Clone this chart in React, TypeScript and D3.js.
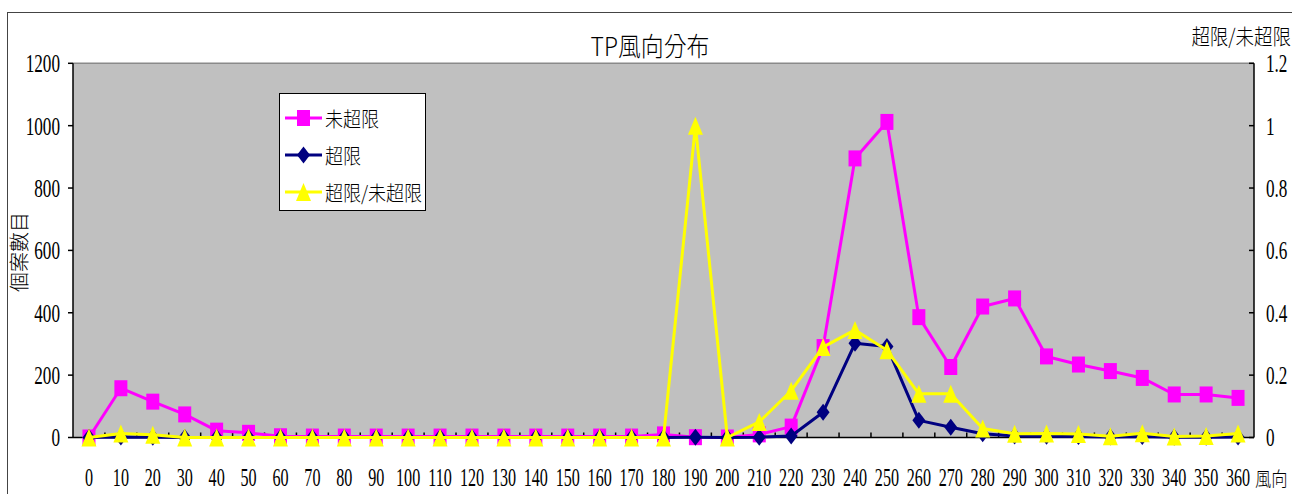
import React from 'react';
import * as d3 from 'd3';

// wind direction categories (degrees)
const directions = [
  0, 10, 20, 30, 40, 50, 60, 70, 80, 90, 100, 110, 120, 130, 140, 150, 160, 170, 180,
  190, 200, 210, 220, 230, 240, 250, 260, 270, 280, 290, 300, 310, 320, 330, 340, 350, 360,
];

// 未超限 counts (left axis)
const notExceeded = [
  0, 158, 115, 74, 22, 15, 4, 3, 3, 3, 3, 3, 3, 3, 3, 3, 3, 3, 10,
  1, 0, 10, 35, 290, 895, 1012, 386, 226, 420, 446, 260, 234, 213, 191, 138, 138, 127,
];

// 超限 counts (left axis)
const exceeded = [
  0, 2, 1, 0, 0, 0, 0, 0, 0, 0, 0, 0, 0, 0, 0, 0, 0, 0, 0,
  1, 0, 1, 5, 81, 302, 292, 55, 33, 12, 5, 4, 3, 2, 3, 1, 1, 2,
];

// 超限/未超限 ratio (right axis)
const ratio = [
  0, 0.013, 0.009, 0, 0, 0, 0, 0, 0, 0, 0, 0, 0, 0, 0, 0, 0, 0, 0,
  1.0, 0, 0.05, 0.15, 0.29, 0.345, 0.28, 0.14, 0.14, 0.029, 0.012, 0.013, 0.011, 0.004, 0.014, 0.003, 0.005, 0.013,
];

const leftTicks = [0, 200, 400, 600, 800, 1000, 1200];
const rightTicks = [0, 0.2, 0.4, 0.6, 0.8, 1, 1.2];

const W = 1292;
const H = 494;
const plot = { left: 73, right: 1254, top: 63.3, bottom: 437.5 };

const CJK = '"Noto Sans CJK TC", "Noto Sans CJK SC", sans-serif';
const NUM = '"Liberation Serif", "DejaVu Serif", serif';

const MAGENTA = '#FF00FF';
const NAVY = '#000080';
const YELLOW = '#FFFF00';

const square = 'M-6.5,-8L6.5,-8L6.5,8L-6.5,8Z';
const diamond = 'M0,-8.5L6.5,0L0,8.5L-6.5,0Z';
const triangle = 'M0,-9L7.5,9L-7.5,9Z';

const Txt: React.FC<{
  x: number; y: number; sx?: number; size: number; family: string;
  anchor?: string; rotate?: number; weight?: number; children: React.ReactNode;
}> = ({ x, y, sx = 1, size, family, anchor = 'start', rotate = 0, weight = 400, children }) => (
  <text
    transform={`translate(${x},${y}) rotate(${rotate}) scale(${sx},1)`}
    fontSize={size}
    fontFamily={family}
    fontWeight={weight}
    textAnchor={anchor}
    dominantBaseline="central"
    fill="#000"
  >
    {children}
  </text>
);

const App: React.FC = () => {
  const x = d3.scaleBand<number>()
    .domain(directions)
    .range([plot.left, plot.right]);
  const cx = (d: number) => (x(d) || 0) + x.bandwidth() / 2;

  const yL = d3.scaleLinear().domain([0, 1200]).range([plot.bottom, plot.top]);
  const yR = d3.scaleLinear().domain([0, 1.2]).range([plot.bottom, plot.top]);

  const lineL = d3.line<number>()
    .x((_, i) => cx(directions[i]))
    .y(v => yL(v));
  const lineR = d3.line<number>()
    .x((_, i) => cx(directions[i]))
    .y(v => yR(v));

  const series = [
    { name: '未超限', values: notExceeded, color: MAGENTA, marker: square, path: lineL(notExceeded), y: yL },
    { name: '超限', values: exceeded, color: NAVY, marker: diamond, path: lineL(exceeded), y: yL },
    { name: '超限/未超限', values: ratio, color: YELLOW, marker: triangle, path: lineR(ratio), y: yR },
  ];

  const legend = { x: 279.5, y: 93.5, w: 146, h: 117 };
  const legendRows = [118, 155, 192];

  return (
    <svg width={W} height={H} style={{ position: 'absolute', left: 0, top: 0, background: '#fff' }}>
      {/* outer chart frame */}
      <rect x={7.5} y={12.5} width={W} height={H} fill="#fff" stroke="#444" strokeWidth={1} />

      {/* title */}
      <Txt x={650} y={45} size={26} sx={0.88} family={CJK} weight={300} anchor="middle">TP風向分布</Txt>

      {/* plot area */}
      <rect x={plot.left} y={plot.top} width={plot.right - plot.left} height={plot.bottom - plot.top}
        fill="#C0C0C0" />
      <line x1={plot.left} x2={plot.right} y1={plot.top} y2={plot.top} stroke="#8a8a8a" strokeWidth={1.5} />

      {/* left axis */}
      <line x1={plot.left} x2={plot.left} y1={plot.top} y2={plot.bottom} stroke="#000" strokeWidth={1.5} />
      {leftTicks.map(t => (
        <g key={'l' + t}>
          <line x1={plot.left - 5} x2={plot.left} y1={yL(t)} y2={yL(t)} stroke="#000" strokeWidth={1.5} />
          <Txt x={60} y={yL(t)} size={26} sx={0.66} family={NUM} anchor="end">{t}</Txt>
        </g>
      ))}
      <Txt x={18} y={252} size={20} family={CJK} weight={300} anchor="middle" rotate={-90}>個案數目</Txt>

      {/* right axis */}
      <line x1={plot.right} x2={plot.right} y1={plot.top} y2={plot.bottom} stroke="#000" strokeWidth={1.5} />
      {rightTicks.map(t => (
        <g key={'r' + t}>
          <line x1={plot.right - 5} x2={plot.right} y1={yR(t)} y2={yR(t)} stroke="#000" strokeWidth={1.5} />
          <Txt x={1266} y={yR(t)} size={26} sx={0.66} family={NUM}>{String(t)}</Txt>
        </g>
      ))}
      <Txt x={1291} y={35} size={21} sx={0.88} family={CJK} weight={300} anchor="end">超限/未超限</Txt>

      {/* bottom axis */}
      <line x1={plot.left} x2={plot.right} y1={plot.bottom} y2={plot.bottom} stroke="#000" strokeWidth={1.5} />
      {directions.slice(1).map(d => (
        <line key={'t' + d} x1={x(d) || 0} x2={x(d) || 0} y1={plot.bottom - 5} y2={plot.bottom}
          stroke="#000" strokeWidth={1.5} />
      ))}
      {directions.map(d => (
        <Txt key={'x' + d} x={cx(d)} y={478} size={26} sx={0.62} family={NUM} anchor="middle">{d}</Txt>
      ))}
      <Txt x={1255} y={477} size={19} sx={0.86} family={CJK} weight={300}>風向</Txt>

      {/* series */}
      {series.map(s => (
        <g key={s.name}>
          <path d={s.path || ''} fill="none" stroke={s.color} strokeWidth={3} strokeLinejoin="round" />
          {s.values.map((v, i) => (
            <path key={i} d={s.marker} transform={`translate(${cx(directions[i])},${s.y(v)})`} fill={s.color} />
          ))}
        </g>
      ))}

      {/* legend */}
      <rect x={legend.x} y={legend.y} width={legend.w} height={legend.h} fill="#fff" stroke="#000" strokeWidth={1} />
      {series.map((s, i) => (
        <g key={'lg' + s.name}>
          <line x1={285} x2={322} y1={legendRows[i]} y2={legendRows[i]} stroke={s.color} strokeWidth={3} />
          <path d={s.marker} transform={`translate(303.5,${legendRows[i]})`} fill={s.color} />
          <Txt x={325} y={legendRows[i]} size={20} sx={0.9} family={CJK} weight={300}>{s.name}</Txt>
        </g>
      ))}
    </svg>
  );
};

export default App;
